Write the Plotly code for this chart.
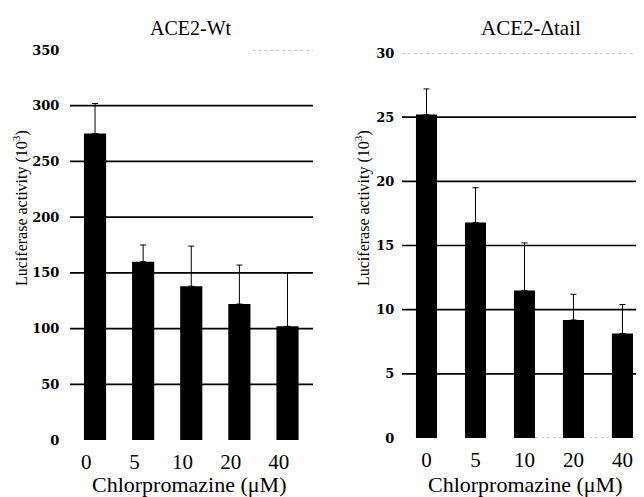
import plotly.graph_objects as go

doses = ["0", "5", "10", "20", "40"]
wt_values = [275, 160, 138, 122, 102]
wt_err_upper = [27, 15, 36, 35, 48]
tail_values = [25.2, 16.8, 11.5, 9.2, 8.15]
tail_err_upper = [2.0, 2.7, 3.7, 2.0, 2.25]

wt_ticks = [0, 50, 100, 150, 200, 250, 300, 350]
wt_grid = [50, 100, 150, 200, 250, 300]
tail_ticks = [0, 5, 10, 15, 20, 25, 30]
tail_grid = [5, 10, 15, 20, 25]

titles = ["ACE2-Wt", "ACE2-\u0394tail"]
x_title = "Chlorpromazine (\u03bcM)"
y_title = "Luciferase activity (10<sup>3</sup>)"

SERIF = "Liberation Serif, Times New Roman, serif"
W, H = 644, 497
PAGE_MARGIN = 8  # default body margin of the html page


def px(x):
    return (x - PAGE_MARGIN) / W


def py(y):
    return 1 - (y - PAGE_MARGIN) / H


fig = go.Figure()

fig.add_trace(go.Bar(
    x=doses, y=wt_values, marker=dict(color="black", line=dict(width=0)),
    width=0.46, offset=-0.05,
    error_y=dict(type="data", symmetric=False, array=wt_err_upper,
                 arrayminus=[0] * len(wt_values), color="black", thickness=1, width=3),
    xaxis="x", yaxis="y", showlegend=False))

fig.add_trace(go.Bar(
    x=doses, y=tail_values, marker=dict(color="black", line=dict(width=0)),
    width=0.43,
    error_y=dict(type="data", symmetric=False, array=tail_err_upper,
                 arrayminus=[0] * len(tail_values), color="black", thickness=1, width=3),
    xaxis="x2", yaxis="y2", showlegend=False))

# gridlines
for g in wt_grid:
    fig.add_shape(type="line", xref="x domain", yref="y", x0=0, x1=1, y0=g, y1=g,
                  line=dict(color="black", width=1.7), layer="below")
for g in tail_grid:
    fig.add_shape(type="line", xref="x2 domain", yref="y2", x0=0, x1=1, y0=g, y1=g,
                  line=dict(color="black", width=1.7), layer="below")
# faint dotted top / bottom
fig.add_shape(type="line", xref="x domain", yref="y", x0=0.75, x1=1, y0=wt_ticks[-1], y1=wt_ticks[-1],
              line=dict(color="#888", width=1, dash="dot"), layer="below")
fig.add_shape(type="line", xref="x2 domain", yref="y2", x0=0, x1=1, y0=tail_ticks[-1], y1=tail_ticks[-1],
              line=dict(color="#999", width=1, dash="dot"), layer="below")
fig.add_shape(type="line", xref="x2 domain", yref="y2", x0=0.55, x1=1, y0=0, y1=0,
              line=dict(color="#999", width=1, dash="dot"), layer="below")

xaxis_common = dict(type="category", showgrid=False, showline=False, zeroline=False,
                    automargin=False,
                    ticks="outside", ticklen=3, tickcolor="rgba(0,0,0,0)",
                    tickfont=dict(family=SERIF, size=21, color="black"))
yaxis_common = dict(showgrid=False, showline=False, zeroline=False, automargin=False,
                    ticks="outside", tickcolor="rgba(0,0,0,0)",
                    tickfont=dict(family="DejaVu Serif, serif", size=13, color="black", weight="bold"))

fig.update_layout(
    width=W, height=H,
    margin=dict(l=0, r=0, t=0, b=0, pad=0),
    paper_bgcolor="white", plot_bgcolor="white",
    xaxis=dict(xaxis_common, domain=[px(70), px(313)], range=[-0.34, 4.71]),
    yaxis=dict(yaxis_common, domain=[py(440), py(50)], range=[0, 350],
               tickvals=wt_ticks, anchor="x", ticklen=7),
    xaxis2=dict(xaxis_common, domain=[px(402), px(644)], range=[-0.5, 4.44], anchor="y2"),
    yaxis2=dict(yaxis_common, domain=[py(438), py(53)], range=[0, 30],
                tickvals=tail_ticks, anchor="x2", ticklen=4),
)

ann_font = dict(family=SERIF, color="black")


def ann(text, x, y, size, angle=0):
    fig.add_annotation(text=text, xref="paper", yref="paper", x=px(x), y=py(y),
                       xanchor="center", yanchor="middle", showarrow=False,
                       textangle=angle, font=dict(ann_font, size=size))


ann(titles[0], 191, 28, 20)
ann(titles[1], 531, 28, 21)
ann(x_title, 189, 484, 22)
ann(x_title, 525, 484, 22)
ann(y_title, 20, 208, 16, -90)
ann(y_title, 362, 208, 16, -90)

fig.write_html("out.html")
